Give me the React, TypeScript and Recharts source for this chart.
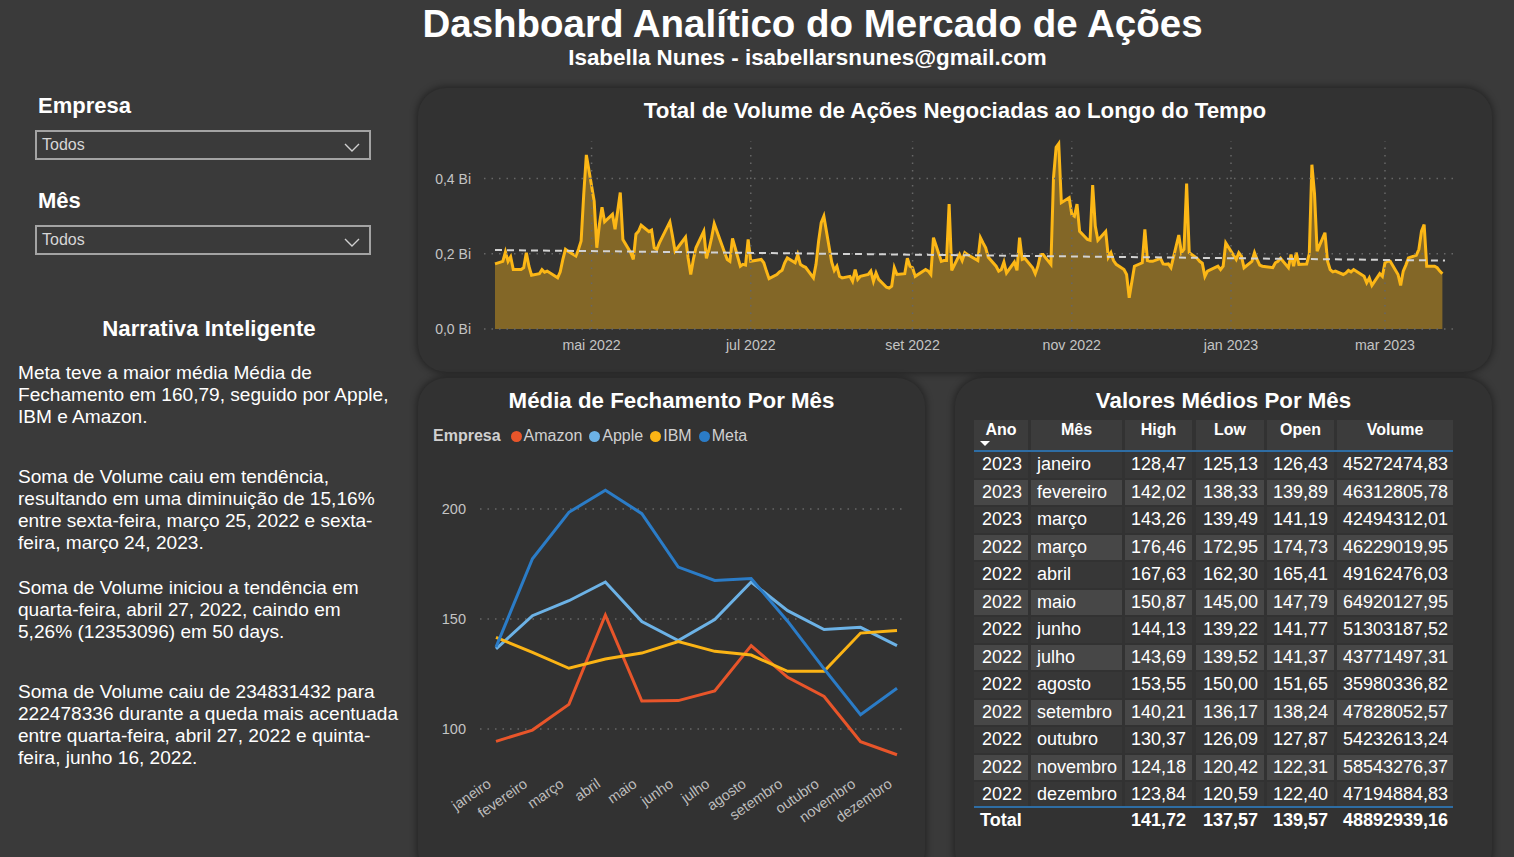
import React from "react";
import {
  AreaChart, Area, LineChart, Line, XAxis, YAxis, ReferenceLine,
} from "recharts";

const FONT = "'Segoe UI', 'Liberation Sans', Arial, sans-serif";

// ---- Volume diário (milhões), 25/03/2022 .. 24/03/2023, um valor por pregão ----
const periodStart = "2022-03-25";
const periodEnd = "2023-03-24";
const marketHolidays = [
  "2022-04-15", "2022-05-30", "2022-06-20", "2022-07-04", "2022-09-05",
  "2022-11-24", "2022-12-26", "2023-01-02", "2023-01-16", "2023-02-20",
];
const volumeMillions = [
  173,
  180, 205, 180, 192, 158,
  158, 163, 203, 167, 143,
  147, 158, 151, 154,
  136, 152, 185, 212, 207,
  194, 212, 234, 358, 463,
  340, 216, 278, 324, 285,
  305, 265, 314, 363, 238,
  203, 185, 252, 260, 276,
  259, 263, 216, 212, 229,
  285, 247, 207, 216,
  244, 189, 145, 185, 216,
  260, 188, 212, 243, 280,
  203, 185, 180, 241,
  167, 172, 170, 238, 180,
  185, 176, 154, 134,
  145, 152, 156, 176, 189,
  176, 198, 172, 167, 164,
  136, 172, 234, 283, 300,
  178, 156, 167, 140, 136,
  140, 127, 158, 132, 140,
  145, 154, 127, 149, 132,
  111, 109, 114, 163, 145,
  147, 188, 167, 163,
  140, 158, 154, 145,
  243, 180, 182, 182, 332,
  156, 198, 182, 203, 198,
  194, 182, 243, 229, 216,
  191, 167, 154, 158, 178,
  149, 178, 156, 243, 185,
  188, 163, 147, 167, 198,
  198, 172, 403, 483, 493,
  336, 349, 305, 300, 332,
  260, 238, 236, 383, 274,
  236, 259, 191, 203, 182,
  172, 158, 145, 83,
  167, 176, 265, 182, 180,
  180, 188, 173, 172, 173,
  163, 250, 203, 212, 387,
  203, 188, 180, 175, 140,
  154, 167, 158, 167,
  229, 185, 203, 194,
  163, 180, 203, 185, 170,
  167, 163, 176, 180,
  188, 163, 198, 167, 203,
  172, 173, 200, 437, 360,
  207, 256, 180, 158, 152,
  154, 145, 149, 156, 152,
  158, 140, 123, 136,
  116, 147, 140, 176, 180,
  180, 145, 116, 154, 170,
  189, 196, 212, 260, 278,
  167, 167, 163, 154, 147,
];
const trendFrom = 210;
const trendTo = 182;
const volumeTicks = [0, 200, 400];
const monthTickDates = ["2022-05-01", "2022-07-01", "2022-09-01", "2022-11-01", "2023-01-01", "2023-03-01"];
const monthTickLabels = ["mai 2022", "jul 2022", "set 2022", "nov 2022", "jan 2023", "mar 2023"];

// ---- Média de fechamento por mês ----
const meses = ["janeiro", "fevereiro", "março", "abril", "maio", "junho", "julho", "agosto", "setembro", "outubro", "novembro", "dezembro"];
const amazon = [94.4, 99.5, 111.2, 151.8, 112.7, 112.9, 117.3, 137.9, 123.5, 114.8, 94.2, 88.3];
const apple = [136.4, 151.5, 158.3, 166.8, 148.8, 140.2, 149.7, 166.8, 153.8, 145.2, 146.2, 137.9];
const ibm = [141.7, 134.8, 127.6, 131.8, 134.5, 139.7, 135.3, 133.6, 126.2, 126.2, 143.6, 144.8];
const meta = [137.2, 177.4, 198.5, 208.5, 197.9, 173.6, 167.5, 168.4, 149.0, 127.3, 106.5, 118.5];
const closeTicks = [100, 150, 200];
const empresas = ["Amazon", "Apple", "IBM", "Meta"];
const empresaCores = ["#E8552A", "#6CB2E6", "#FBB415", "#2B7CC7"];

// ---- Valores médios por mês (tabela) ----
const tabAno = [2023, 2023, 2023, 2022, 2022, 2022, 2022, 2022, 2022, 2022, 2022, 2022, 2022];
const tabMes = ["janeiro", "fevereiro", "março", "março", "abril", "maio", "junho", "julho", "agosto", "setembro", "outubro", "novembro", "dezembro"];
const tabHigh = [128.47, 142.02, 143.26, 176.46, 167.63, 150.87, 144.13, 143.69, 153.55, 140.21, 130.37, 124.18, 123.84];
const tabLow = [125.13, 138.33, 139.49, 172.95, 162.30, 145.00, 139.22, 139.52, 150.00, 136.17, 126.09, 120.42, 120.59];
const tabOpen = [126.43, 139.89, 141.19, 174.73, 165.41, 147.79, 141.77, 141.37, 151.65, 138.24, 127.87, 122.31, 122.40];
const tabVolume = [45272474.83, 46312805.78, 42494312.01, 46229019.95, 49162476.03, 64920127.95, 51303187.52, 43771497.31, 35980336.82, 47828052.57, 54232613.24, 58543276.37, 47194884.83];
const totais = [141.72, 137.57, 139.57, 48892939.16];

const narrativa = [
  ["Meta teve a maior média Média de", "Fechamento em 160,79, seguido por Apple,", "IBM e Amazon."],
  ["Soma de Volume caiu em tendência,", "resultando em uma diminuição de 15,16%", "entre sexta-feira, março 25, 2022 e sexta-", "feira, março 24, 2023."],
  ["Soma de Volume iniciou a tendência em", "quarta-feira, abril 27, 2022, caindo em", "5,26% (12353096) em 50 days."],
  ["Soma de Volume caiu de 234831432 para", "222478336 durante a queda mais acentuada", "entre quarta-feira, abril 27, 2022 e quinta-", "feira, junho 16, 2022."],
];
const narrativaTop = [362, 466, 577, 681];

const utc = (s: string) => {
  const [y, m, d] = s.split("-").map(Number);
  return Date.UTC(y, m - 1, d);
};

function tradingDays(): number[] {
  const out: number[] = [];
  const hol = new Set(marketHolidays.map(utc));
  const end = utc(periodEnd);
  for (let t = utc(periodStart); t <= end; t += 86400000) {
    const wd = new Date(t).getUTCDay();
    if (wd === 0 || wd === 6 || hol.has(t)) continue;
    out.push(t);
  }
  return out;
}

const days = tradingDays();
const volumeData = volumeMillions.map((v, i) => ({ t: days[i], volume: v }));
const monthTicks = monthTickDates.map(utc);
const closeData = meses.map((m, i) => ({ mes: m, Amazon: amazon[i], Apple: apple[i], IBM: ibm[i], Meta: meta[i] }));

const fmt2 = (v: number) => v.toFixed(2).replace(".", ",");

const GRID = { stroke: "#676767", strokeDasharray: "1.5 6", strokeWidth: 1.5 };
const TITLE: React.CSSProperties = { position: "absolute", textAlign: "center", color: "#fff", fontWeight: 700, fontSize: 22.3 };

const Card: React.FC<{ x: number; y: number; w: number; h: number }> = ({ x, y, w, h }) => (
  <div style={{
    position: "absolute", left: x, top: y, width: w, height: h, background: "#323232",
    borderRadius: 28, boxShadow: "0 0 6px 2px rgba(0,0,0,0.35)",
  }} />
);

const Dropdown: React.FC<{ top: number }> = ({ top }) => (
  <div style={{
    position: "absolute", left: 35, top, width: 336, height: 30, boxSizing: "border-box",
    border: "2px solid #a3a3a3", color: "#d6d6d6", fontSize: 16, lineHeight: "26px", paddingLeft: 5,
  }}>
    Todos
    <svg width={18} height={12} style={{ position: "absolute", right: 7, top: 10 }}>
      <polyline points="1,2 8,9 15,2" fill="none" stroke="#cfcfcf" strokeWidth={1.4} />
    </svg>
  </div>
);

const MonthTick = (props: any) => {
  const { x, y, payload } = props;
  return (
    <text x={x - 4} y={y + 16} transform={`rotate(-35, ${x - 4}, ${y + 16})`} textAnchor="end"
      fill="#bdbdbd" fontSize={14.5} fontFamily={FONT}>{payload.value}</text>
  );
};

const colLeft = [974, 1031, 1125, 1196, 1267, 1337];
const colWidth = [54, 91, 67, 68, 67, 116];
const headers = ["Ano", "Mês", "High", "Low", "Open", "Volume"];

const TableCell: React.FC<{ col: number; top: number; h: number; bg: string; align: string; bold?: boolean; children?: React.ReactNode }> =
  ({ col, top, h, bg, align, bold, children }) => (
    <div style={{
      position: "absolute", left: colLeft[col], top, width: colWidth[col], height: h, background: bg,
      color: "#ffffff", fontSize: 18, fontWeight: bold ? 700 : 400, textAlign: align as any,
      lineHeight: `${h}px`, boxSizing: "border-box", padding: "0 6px", whiteSpace: "nowrap",
    }}>{children}</div>
  );

export default function App() {
  const rowTop = (i: number) => 452 + i * 27.5;
  return (
    <div style={{ position: "absolute", left: 0, top: 0, width: 1514, height: 857, background: "#3a3a3a", overflow: "hidden", fontFamily: FONT }}>
      <div style={{ ...TITLE, left: 0, width: 1625, top: 2, fontSize: 38.5 }}>
        Dashboard Analítico do Mercado de Ações
      </div>
      <div style={{ ...TITLE, left: 0, width: 1615, top: 45, fontSize: 22.4 }}>
        Isabella Nunes - isabellarsnunes@gmail.com
      </div>

      {/* filtros */}
      <div style={{ position: "absolute", left: 38, top: 93, color: "#fff", fontWeight: 700, fontSize: 22 }}>Empresa</div>
      <Dropdown top={130} />
      <div style={{ position: "absolute", left: 38, top: 188, color: "#fff", fontWeight: 700, fontSize: 22 }}>Mês</div>
      <Dropdown top={225} />

      <div style={{ ...TITLE, left: 0, width: 418, top: 316, fontSize: 22.2 }}>
        Narrativa Inteligente
      </div>
      {narrativa.map((par, i) => (
        <div key={i} style={{ position: "absolute", left: 18, top: narrativaTop[i], color: "#fff", fontSize: 19.1, lineHeight: "22px", whiteSpace: "nowrap" }}>
          {par.map((l, j) => <div key={j}>{l}</div>)}
        </div>
      ))}

      {/* volume ao longo do tempo */}
      <Card x={418} y={88} w={1074} h={284} />
      <div style={{ ...TITLE, left: 418, width: 1074, top: 98 }}>
        Total de Volume de Ações Negociadas ao Longo do Tempo
      </div>
      <div style={{ position: "absolute", left: 420, top: 125 }}>
        <AreaChart width={1060} height={235} data={volumeData} margin={{ top: 16, right: 27, bottom: 1, left: 0 }}>
          <XAxis dataKey="t" type="number" domain={[utc(periodStart), utc(periodEnd)]} ticks={monthTicks}
            tickFormatter={(v: number) => monthTickLabels[monthTicks.indexOf(v)]}
            padding={{ left: 11, right: 8 }} height={30} axisLine={false} tickLine={false} tickMargin={5}
            tick={{ fill: "#c4c4c4", fontSize: 14.2, fontFamily: FONT }} />
          <YAxis domain={[0, 500]} ticks={volumeTicks} width={64} axisLine={false} tickLine={false} tickMargin={7}
            tickFormatter={(v: number) => (v / 1000).toFixed(1).replace(".", ",") + " Bi"}
            tick={{ fill: "#c4c4c4", fontSize: 14, fontFamily: FONT }} />
          {volumeTicks.map((v) => <ReferenceLine key={`h${v}`} y={v} {...GRID} />)}
          {monthTicks.map((t) => <ReferenceLine key={`v${t}`} x={t} {...GRID} />)}
          <Area type="linear" dataKey="volume" stroke="#FCB716" strokeWidth={3} fill="#FCB716" fillOpacity={0.4}
            dot={false} activeDot={false} isAnimationActive={false} />
          <ReferenceLine segment={[{ x: utc(periodStart), y: trendFrom }, { x: utc(periodEnd), y: trendTo }]}
            stroke="#d2d2d2" strokeWidth={2} strokeDasharray="7 5" />
        </AreaChart>
      </div>

      {/* média de fechamento */}
      <Card x={418} y={378} w={507} h={500} />
      <div style={{ ...TITLE, left: 418, width: 507, top: 388 }}>
        Média de Fechamento Por Mês
      </div>
      <div style={{ position: "absolute", left: 433, top: 427, color: "#d0d0d0", fontSize: 16, display: "flex", alignItems: "center", whiteSpace: "nowrap" }}>
        <span style={{ fontWeight: 700, marginRight: 10 }}>Empresa</span>
        {empresas.map((e, i) => (
          <span key={e} style={{ display: "flex", alignItems: "center", marginRight: 7 }}>
            <span style={{ width: 11, height: 11, borderRadius: 6, background: empresaCores[i], marginRight: 2, display: "inline-block" }} />
            {e}
          </span>
        ))}
      </div>
      <div style={{ position: "absolute", left: 420, top: 450 }}>
        <LineChart width={500} height={400} data={closeData} margin={{ top: 26, right: 15, bottom: 8, left: 0 }}>
          <XAxis dataKey="mes" interval={0} height={80} padding={{ left: 16, right: 8 }} axisLine={false} tickLine={false}
            tick={<MonthTick />} />
          <YAxis domain={[85, 215]} ticks={closeTicks} width={60} axisLine={false} tickLine={false} tickMargin={8}
            allowDataOverflow tick={{ fill: "#c4c4c4", fontSize: 14.5, fontFamily: FONT }} />
          {closeTicks.map((v) => <ReferenceLine key={v} y={v} {...GRID} />)}
          {empresas.map((e, i) => (
            <Line key={e} type="linear" dataKey={e} stroke={empresaCores[i]} strokeWidth={3} dot={false}
              activeDot={false} isAnimationActive={false} />
          ))}
        </LineChart>
      </div>

      {/* tabela */}
      <Card x={955} y={378} w={537} h={500} />
      <div style={{ ...TITLE, left: 955, width: 537, top: 388 }}>
        Valores Médios Por Mês
      </div>
      {headers.map((h, c) => (
        <div key={h} style={{
          position: "absolute", left: colLeft[c], top: 420, width: colWidth[c], height: 30, background: "#3c3c3c",
          color: "#fff", fontWeight: 700, fontSize: 16, textAlign: "center", lineHeight: "20px",
        }}>{h}</div>
      ))}
      <svg width={12} height={8} style={{ position: "absolute", left: 979, top: 440 }}>
        <polygon points="1,1 11,1 6,6" fill="#fff" />
      </svg>
      <div style={{ position: "absolute", left: 974, top: 450, width: 479, height: 2, background: "#2e6da4" }} />
      {tabMes.map((m, i) => {
        const bg = i % 2 === 0 ? "#373737" : "#474747";
        const top = rowTop(i);
        const cells = [String(tabAno[i]), m, fmt2(tabHigh[i]), fmt2(tabLow[i]), fmt2(tabOpen[i]), fmt2(tabVolume[i])];
        return cells.map((txt, c) => (
          <TableCell key={`${i}-${c}`} col={c} top={top} h={25.5} bg={bg} align={c === 1 ? "left" : "right"}>{txt}</TableCell>
        ));
      })}
      <div style={{ position: "absolute", left: 974, top: 806, width: 479, height: 2, background: "#2e6da4" }} />
      <TableCell col={0} top={808} h={24} bg="transparent" align="left" bold>Total</TableCell>
      <TableCell col={1} top={808} h={24} bg="transparent" align="left" />
      {totais.map((v, k) => (
        <TableCell key={k} col={k + 2} top={808} h={24} bg="transparent" align="right" bold>{fmt2(v)}</TableCell>
      ))}
    </div>
  );
}
